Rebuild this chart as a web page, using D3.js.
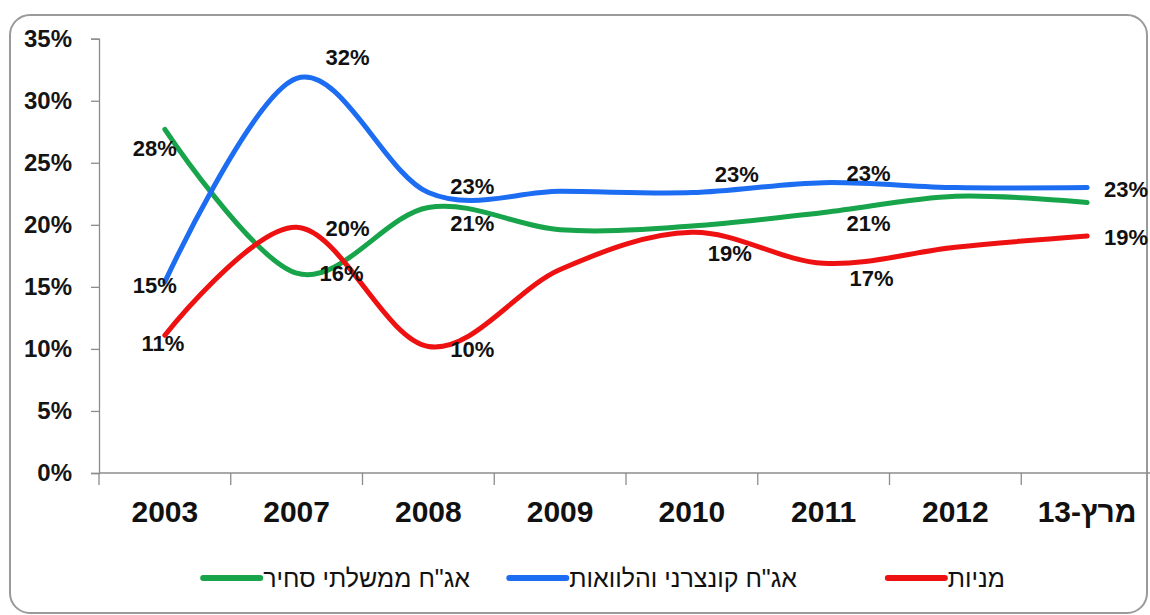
<!DOCTYPE html>
<html>
<head>
<meta charset="utf-8">
<script src="https://cdn.jsdelivr.net/npm/d3@7"></script>
<style>
  body { margin: 0; background: #fff; }
  svg { display: block; }
</style>
</head>
<body>
<div id="chart"></div>
<script>
// categories along the x axis
let categories = ['2003', '2007', '2008', '2009', '2010', '2011', '2012', 'מרץ-13'];

// values in percent
let govBonds = [27.7, 16.1, 21.4, 19.6, 19.9, 21.0, 22.3, 21.8];
let corpBonds = [15.4, 31.8, 22.6, 22.7, 22.6, 23.4, 23.0, 23.0];
let stocks = [11.1, 19.8, 10.2, 16.4, 19.4, 16.9, 18.2, 19.1];

let seriesNames = ['אג"ח ממשלתי סחיר', 'אג"ח קונצרני והלוואות', 'מניות'];

// which points carry a value label
let govLabelled = [0, 1, 2, 5];
let corpLabelled = [0, 1, 2, 4, 5, 7];
let stockLabelled = [0, 1, 2, 4, 5, 7];

let yTicks = [0, 5, 10, 15, 20, 25, 30, 35];

let series = [
  { name: seriesNames[0], values: govBonds, labelled: govLabelled, color: '#17a44b',
    offsets: { 0: [-10, 19], 1: [45, 0], 2: [44, 16], 5: [45, 11] } },
  { name: seriesNames[1], values: corpBonds, labelled: corpLabelled, color: '#1c6df2',
    offsets: { 0: [-10, 3], 1: [51, -21], 2: [44, -6], 4: [45, -18], 5: [45, -9], 7: [39, 2] } },
  { name: seriesNames[2], values: stocks, labelled: stockLabelled, color: '#ee1111',
    offsets: { 0: [-2, 8], 1: [51, 1], 2: [44, 3], 4: [38, 21], 5: [48, 15], 7: [39, 1] } }
];

let W = 1150, H = 615;

let svg = d3.select('#chart').append('svg')
  .attr('width', W)
  .attr('height', H);

// outer rounded frame
svg.append('rect')
  .attr('x', 10).attr('y', 15)
  .attr('width', 1137).attr('height', 598)
  .attr('rx', 20)
  .attr('fill', '#fff')
  .attr('stroke', '#9a9a9a')
  .attr('stroke-width', 2);

let x = d3.scaleBand()
  .domain(categories)
  .range([99, 1153]);

let y = d3.scaleLinear()
  .domain([0, 35])
  .range([473, 38.7]);

let cx = d => x(d) + x.bandwidth() / 2;

// y axis
let yAxis = svg.append('g')
  .attr('transform', 'translate(99,0)')
  .call(d3.axisLeft(y).tickValues(yTicks).tickSize(8).tickPadding(19).tickFormat(d => d + '%'));
yAxis.select('.domain').attr('stroke', '#8c8c8c').attr('stroke-width', 1.3);
yAxis.selectAll('.tick line').attr('stroke', '#8c8c8c').attr('stroke-width', 1.3);
yAxis.selectAll('text')
  .attr('font-family', '"Liberation Sans", Arial, sans-serif')
  .attr('font-size', 24)
  .attr('font-weight', 'bold')
  .attr('fill', '#151515');

// x axis
let xAxisG = svg.append('g');
xAxisG.append('line')
  .attr('x1', 99).attr('x2', 1153)
  .attr('y1', 473).attr('y2', 473)
  .attr('stroke', '#8c8c8c').attr('stroke-width', 1.3);
xAxisG.selectAll('.xtick')
  .data(categories)
  .enter().append('line')
  .attr('class', 'xtick')
  .attr('x1', d => x(d)).attr('x2', d => x(d))
  .attr('y1', 473).attr('y2', 485)
  .attr('stroke', '#8c8c8c').attr('stroke-width', 1.3);
xAxisG.selectAll('.xlabel')
  .data(categories)
  .enter().append('text')
  .attr('class', 'xlabel')
  .attr('x', d => cx(d))
  .attr('y', 522)
  .attr('text-anchor', 'middle')
  .attr('font-family', '"Liberation Sans Narrow", "Liberation Sans", Arial, sans-serif')
  .attr('font-size', 30)
  .attr('font-weight', 'bold')
  .attr('fill', '#111')
  .text(d => d);

// smoothed lines
let line = d3.line()
  .x((d, i) => cx(categories[i]))
  .y(d => y(d))
  .curve(d3.curveCatmullRom.alpha(0));

series.forEach(s => {
  svg.append('path')
    .datum(s.values)
    .attr('fill', 'none')
    .attr('stroke', s.color)
    .attr('stroke-width', 5)
    .attr('stroke-linecap', 'round')
    .attr('d', line);
});

// value labels
let pct = v => Math.round(v) + '%';
series.forEach(s => {
  svg.selectAll(null)
    .data(s.labelled)
    .enter().append('text')
    .attr('x', i => cx(categories[i]) + s.offsets[i][0])
    .attr('y', i => y(s.values[i]) + s.offsets[i][1])
    .attr('dy', '0.35em')
    .attr('text-anchor', 'middle')
    .attr('font-family', '"Liberation Sans", Arial, sans-serif')
    .attr('font-size', 22)
    .attr('font-weight', 'bold')
    .attr('fill', '#111')
    .text(i => pct(s.values[i]));
});

// legend, laid out right to left
let legendOrder = [2, 1, 0];
let legendRight = [1005, 797, 470];
legendOrder.forEach((k, j) => {
  let s = series[k];
  let g = svg.append('g');
  let t = g.append('text')
    .attr('x', legendRight[j])
    .attr('y', 578)
    .attr('dy', '0.35em')
    .attr('text-anchor', 'start')
    .attr('direction', 'rtl')
    .attr('font-family', '"Liberation Sans Narrow", "Liberation Sans", Arial, sans-serif')
    .attr('font-size', 25)
    .attr('fill', '#111')
    .text(s.name);
  let w = t.node().getComputedTextLength();
  let left = legendRight[j] - w - 3;
  g.append('line')
    .attr('x1', left - 57).attr('x2', left)
    .attr('y1', 578).attr('y2', 578)
    .attr('stroke', s.color)
    .attr('stroke-width', 6)
    .attr('stroke-linecap', 'round');
});
</script>
</body>
</html>
